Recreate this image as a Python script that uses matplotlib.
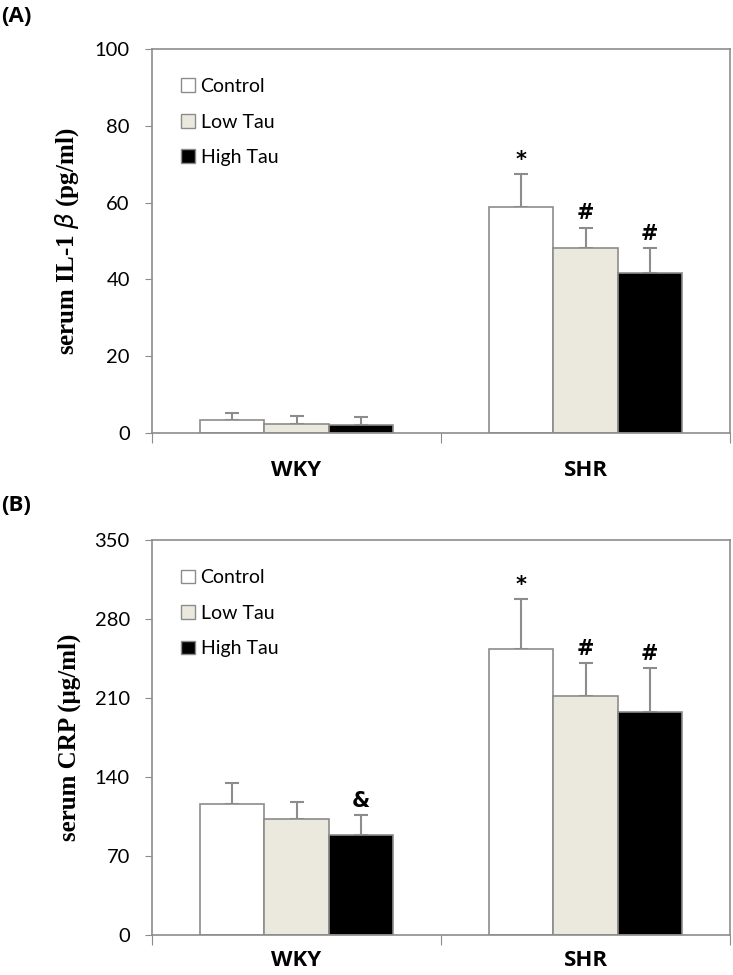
import numpy as np
import matplotlib
matplotlib.use("Agg")
import matplotlib.pyplot as plt
from matplotlib.patches import Patch

groups = ["WKY", "SHR"]
series = ["Control", "Low Tau", "High Tau"]
colors = ["#ffffff", "#ebe9de", "#000000"]

# panel A: serum IL-1 beta (pg/ml)
il1b_mean = [[3.4, 58.9], [2.3, 48.2], [2.2, 41.6]]
il1b_err = [[1.8, 8.5], [2.1, 5.3], [2.0, 6.6]]
il1b_marks = [["", "*"], ["", "#"], ["", "#"]]

# panel B: serum CRP (ug/ml)
crp_mean = [[115.8, 253.4], [103.0, 211.8], [88.6, 197.6]]
crp_err = [[19.2, 44.0], [14.8, 28.9], [18.0, 38.7]]
crp_marks = [["", "*"], ["", "#"], ["&", "#"]]

grey = "#8c8c8c"
tick_font = "Lato"

fig = plt.figure(figsize=(7.33, 9.75), dpi=100)
axA = fig.add_axes([0.2074, 0.5559, 0.7886, 0.3938])
axB = fig.add_axes([0.2074, 0.0410, 0.7886, 0.4051])


def draw(ax, means, errs, marks, ymax, step, ylabel, lab_off):
    x = np.arange(len(groups))
    w = 1 / 4.5
    for i, name in enumerate(series):
        pos = x + (i - 1) * w
        ax.bar(pos, means[i], w, color=colors[i], edgecolor=grey, linewidth=1.2,
               zorder=2, label=name)
        ax.errorbar(pos, means[i], yerr=[np.zeros(len(groups)), errs[i]], fmt="none",
                    ecolor=grey, elinewidth=1.5, capsize=5, capthick=1.5, zorder=1)
        for j in range(len(groups)):
            if marks[i][j]:
                top = means[i][j] + errs[i][j]
                ax.annotate(marks[i][j], (pos[j], top), xytext=(0, 3),
                            textcoords="offset points", ha="center", va="bottom",
                            fontsize=15, fontweight="bold", fontfamily="DejaVu Sans")
    ax.set_xlim(-0.5, 1.5)
    ax.set_ylim(0, ymax)
    ax.set_yticks(np.arange(0, ymax + 1, step))
    ax.set_xticks([-0.5, 0.5, 1.5])
    ax.set_xticklabels([])
    ax.tick_params(axis="x", length=7, color=grey, direction="out")
    ax.tick_params(axis="y", length=5, color=grey, direction="out", labelsize=14.5, pad=11)
    for lab in ax.get_yticklabels():
        lab.set_fontfamily(tick_font)
    for s in ax.spines.values():
        s.set_color(grey)
        s.set_linewidth(1.2)
    for j, g in enumerate(groups):
        ax.annotate(g, (x[j], 0), xytext=(0, -lab_off), textcoords="offset points",
                    ha="center", va="center", fontsize=16, fontweight="bold",
                    fontfamily="Open Sans", annotation_clip=False)
    ax.set_ylabel(ylabel, fontsize=18, fontweight="bold", fontfamily="Liberation Serif",
                  labelpad=10)
    handles = [Patch(facecolor=c, edgecolor=grey, linewidth=1) for c in colors]
    ax.legend(handles, series, loc="upper left", bbox_to_anchor=(0.02, 0.97),
              frameon=False, handlelength=0.7, handleheight=0.7,
              handletextpad=0.3, labelspacing=0.95,
              prop={"family": tick_font, "size": 14})


draw(axA, il1b_mean, il1b_err, il1b_marks, 100, 20, r"serum IL-1 $\it{\beta}$ (pg/ml)", 27)
draw(axB, crp_mean, crp_err, crp_marks, 350, 70, "serum CRP (\u03bcg/ml)", 18)

fig.text(0.002, 0.983, "(A)", fontsize=16, fontweight="bold", fontfamily="Open Sans",
         va="center")
fig.text(0.002, 0.482, "(B)", fontsize=16, fontweight="bold", fontfamily="Open Sans",
         va="center")

fig.savefig("out.png", dpi=100)
